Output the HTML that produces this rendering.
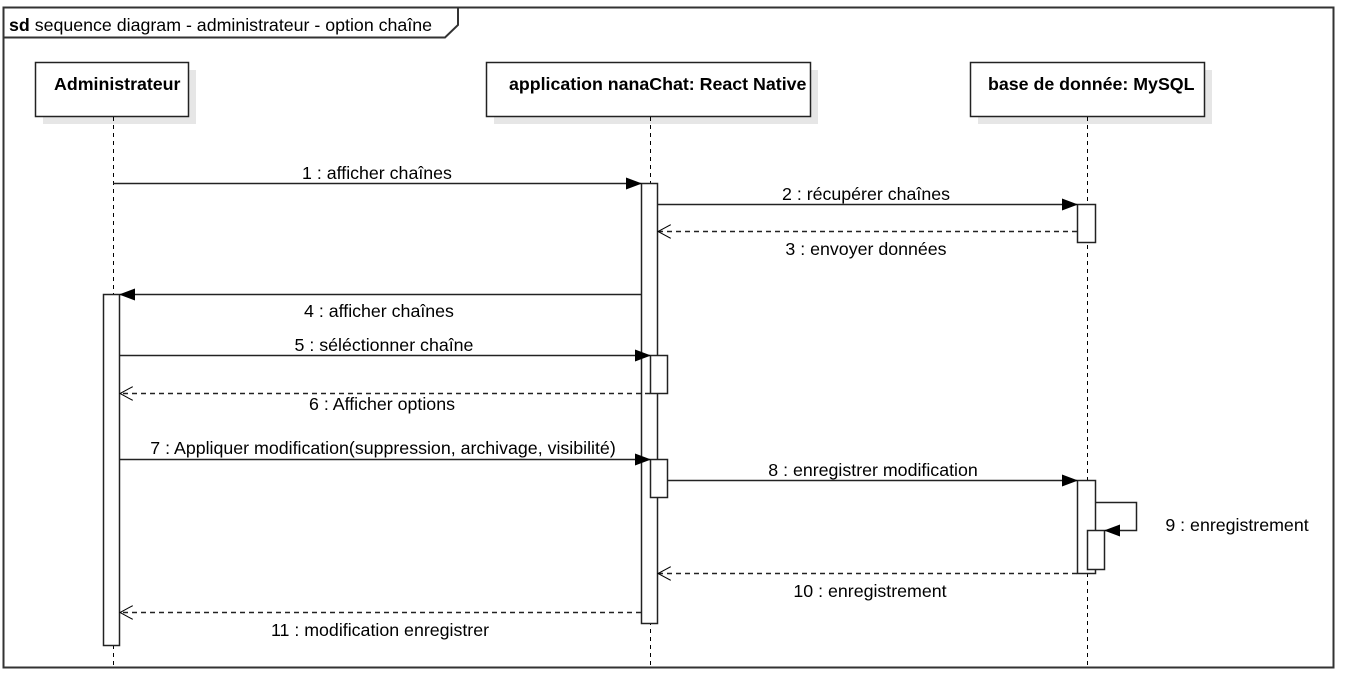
<!DOCTYPE html>
<html><head><meta charset="utf-8"><style>
html,body{margin:0;padding:0;background:#fff;width:1351px;height:676px;overflow:hidden}
svg text{font-family:"Liberation Sans",Arial,sans-serif;font-size:17.8px;fill:#000}
</style></head><body>
<svg width="1351" height="676" viewBox="0 0 1351 676" xmlns="http://www.w3.org/2000/svg">
<defs>
<marker id="a" markerWidth="16" markerHeight="12" refX="15" refY="6" orient="auto" markerUnits="userSpaceOnUse"><path d="M0,0 L16,6 L0,12 Z" fill="#000"/></marker>
<marker id="o" markerWidth="14" markerHeight="14" refX="13" refY="7" orient="auto" markerUnits="userSpaceOnUse"><path d="M0,0 L13,7 L0,14" fill="none" stroke="#000" stroke-width="1"/></marker>
</defs>
<rect x="3.5" y="7.5" width="1330" height="660" fill="none" stroke="#333" stroke-width="2"/>
<path d="M3.5,37.5 H445 L458,25 V7.5" fill="none" stroke="#333" stroke-width="2"/>
<text x="9" y="31"><tspan font-weight="bold">sd</tspan> sequence diagram - administrateur - option chaîne</text>

<g fill="#e6e6e6">
<rect x="43" y="70" width="153" height="54"/><rect x="494" y="70" width="324" height="54"/><rect x="978" y="70" width="234" height="54"/>
</g>
<g fill="#fff" stroke="#222" stroke-width="1.5">
<rect x="35.5" y="62.5" width="153" height="54"/><rect x="486.5" y="62.5" width="324" height="54"/><rect x="970.5" y="62.5" width="234" height="54"/>
</g>
<text x="54" y="90" font-weight="bold">Administrateur</text>
<text x="509" y="90" font-weight="bold">application nanaChat: React Native</text>
<text x="988" y="90" font-weight="bold">base de donnée: MySQL</text>

<g stroke="#000" stroke-width="1" stroke-dasharray="4,4">
<line x1="113.5" y1="117" x2="113.5" y2="667"/><line x1="650.5" y1="117" x2="650.5" y2="667"/><line x1="1087.5" y1="117" x2="1087.5" y2="667"/>
</g>

<g fill="#fff" stroke="#222" stroke-width="1.5">
<rect x="641.5" y="183.5" width="16" height="440"/>
<rect x="1077.5" y="204.5" width="18" height="38"/>
<rect x="103.5" y="294.5" width="16" height="351"/>
<rect x="650.5" y="355.5" width="17" height="38"/>
<rect x="650.5" y="459.5" width="17" height="38"/>
<rect x="1077.5" y="480.5" width="18" height="93"/>
<rect x="1087.5" y="530.5" width="17" height="39"/>
</g>

<g stroke="#222" stroke-width="1.5" fill="none">
<line x1="113" y1="183.5" x2="641" y2="183.5" marker-end="url(#a)"/>
<line x1="658" y1="204.5" x2="1077" y2="204.5" marker-end="url(#a)"/>
<line x1="1077" y1="231.5" x2="658" y2="231.5" stroke-dasharray="5,4" marker-end="url(#o)"/>
<line x1="641" y1="294.5" x2="120" y2="294.5" marker-end="url(#a)"/>
<line x1="120" y1="355.5" x2="650" y2="355.5" marker-end="url(#a)"/>
<line x1="650" y1="393.5" x2="120" y2="393.5" stroke-dasharray="5,4" marker-end="url(#o)"/>
<line x1="120" y1="459.5" x2="650" y2="459.5" marker-end="url(#a)"/>
<line x1="668" y1="480.5" x2="1077" y2="480.5" marker-end="url(#a)"/>
<path d="M1096,502.5 H1136.5 V530.5 H1105" marker-end="url(#a)"/>
<line x1="1077" y1="573.5" x2="658" y2="573.5" stroke-dasharray="5,4" marker-end="url(#o)"/>
<line x1="641" y1="612.5" x2="120" y2="612.5" stroke-dasharray="5,4" marker-end="url(#o)"/>
</g>

<g text-anchor="middle">
<text x="377" y="179">1 : afficher chaînes</text>
<text x="866" y="200">2 : récupérer chaînes</text>
<text x="866" y="255">3 : envoyer données</text>
<text x="379" y="317">4 : afficher chaînes</text>
<text x="384" y="351">5 : séléctionner chaîne</text>
<text x="382" y="410">6 : Afficher options</text>
<text x="383" y="454">7 : Appliquer modification(suppression, archivage, visibilité)</text>
<text x="873" y="476">8 : enregistrer modification</text>
<text x="1237" y="531">9 : enregistrement</text>
<text x="870" y="597">10 : enregistrement</text>
<text x="380" y="636">11 : modification enregistrer</text>
</g>
</svg>
</body></html>
